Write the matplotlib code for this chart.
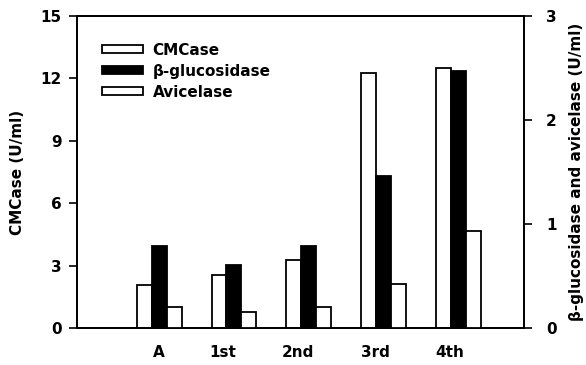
import numpy as np
import matplotlib
matplotlib.use("Agg")
from matplotlib import pyplot as plt
from matplotlib.patches import Patch

plt.rcParams['font.family'] = ['DejaVu Sans']
plt.rcParams['font.weight'] = 'bold'
fs = 11

stages = ['A', '1st', '2nd', '3rd', '4th']
cmcase = [2.05, 2.55, 3.25, 12.25, 12.5]      # U/ml, left axis
bgluc = [0.79, 0.61, 0.79, 1.46, 2.47]        # U/ml, right axis
avicelase = [0.20, 0.15, 0.20, 0.42, 0.93]    # U/ml, right axis

pos = np.arange(1, len(stages) + 1)
w = 0.2
# stage names sit a little left of their bar groups
label_shift = np.array([0.0, -0.15, -0.15, -0.11, -0.11])

fig = plt.figure(figsize=(5.86, 3.65), dpi=100)
ax = fig.add_axes([0.1314, 0.1014, 0.7628, 0.8548])
ax2 = ax.twinx()

ax.bar(pos - w, cmcase, w, color='white', edgecolor='black', linewidth=1.3, zorder=3)
ax2.bar(pos, bgluc, w, color='black', edgecolor='black', linewidth=1.3, zorder=3)
ax2.bar(pos + w, avicelase, w, color='white', edgecolor='black', linewidth=1.3, zorder=3)

ax.set_xlim(-0.1, 5.88)
ax.set_ylim(0, 15)
ax2.set_ylim(0, 3)
ax.set_yticks([0, 3, 6, 9, 12, 15])
ax2.set_yticks([0, 1, 2, 3])
ax.set_xticks(pos + label_shift)
ax.set_xticklabels(stages)

ax.tick_params(axis='y', length=6, width=1.2, labelsize=fs, pad=5)
ax2.tick_params(axis='y', length=6, width=1.2, labelsize=fs, pad=10)
ax.tick_params(axis='x', length=0, labelsize=fs, pad=12)
for a in (ax, ax2):
    for s in a.spines.values():
        s.set_linewidth(1.3)
for lab in ax.get_yticklabels() + ax2.get_yticklabels() + ax.get_xticklabels():
    lab.set_fontweight('bold')

ax.set_ylabel('CMCase (U/ml)', fontsize=fs, fontweight='bold', labelpad=11)
ax2.set_ylabel('β-glucosidase and avicelase (U/ml)', fontsize=fs,
               fontweight='bold', rotation=90, labelpad=9)

handles = [Patch(facecolor='white', edgecolor='black', linewidth=1.3, label='CMCase'),
           Patch(facecolor='black', edgecolor='black', linewidth=1.3, label='β-glucosidase'),
           Patch(facecolor='white', edgecolor='black', linewidth=1.3, label='Avicelase')]
leg = ax2.legend(handles=handles, loc='upper left', bbox_to_anchor=(0.056, 0.915),
                 frameon=False, borderaxespad=0, borderpad=0, handlelength=2.7,
                 handleheight=0.45, handletextpad=0.6, labelspacing=0.4,
                 prop={'size': fs, 'weight': 'bold'})

fig.savefig('out.png', dpi=100)
